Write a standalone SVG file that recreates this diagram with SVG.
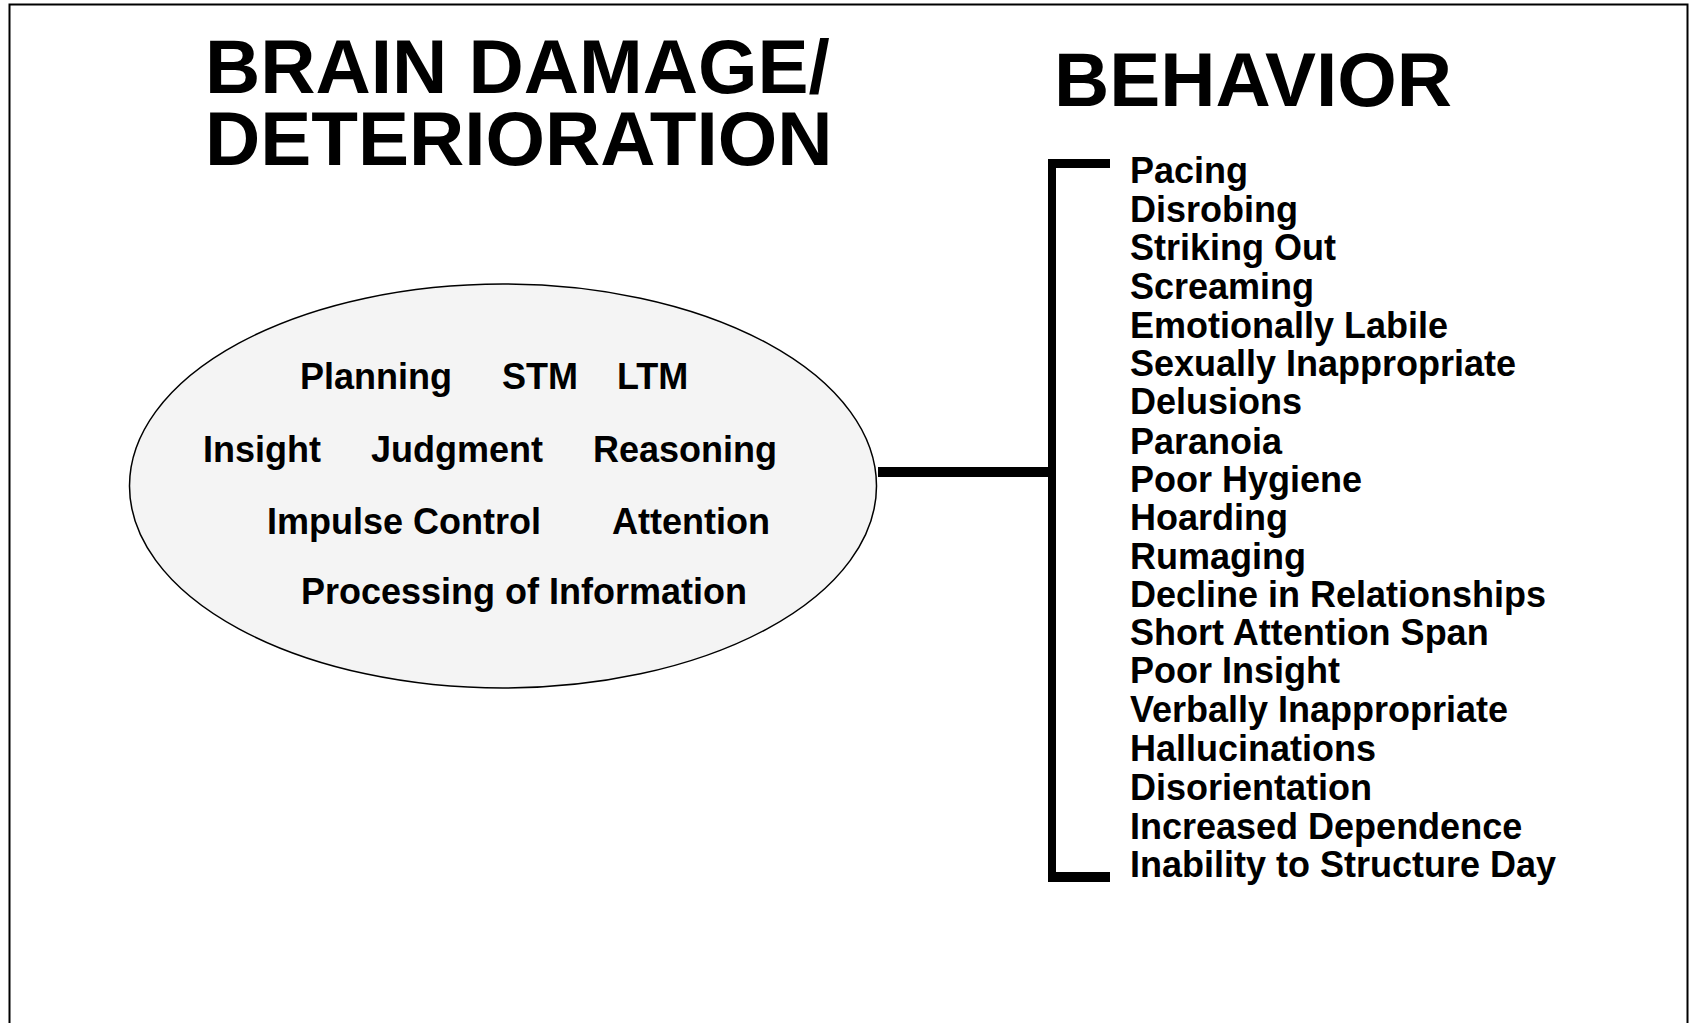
<svg xmlns="http://www.w3.org/2000/svg" width="1693" height="1023" viewBox="0 0 1693 1023">
<style>
  text { font-family: "Liberation Sans", Arial, sans-serif; font-weight: bold; fill: #000; }
  .title { font-size: 76.5px; }
  .item { font-size: 36px; }
  .conn { fill: #000; stroke: none; }
</style>
<rect x="0" y="0" width="1693" height="1023" fill="#fff"/>
<rect id="frame" x="9.5" y="4.5" width="1678" height="1040" fill="none" stroke="#000" stroke-width="2"/>

<g id="title-brain">
  <text class="title" x="205" y="93">BRAIN DAMAGE/</text>
  <text class="title" x="205" y="165">DETERIORATION</text>
</g>
<g id="title-behavior">
  <text class="title" x="1054" y="106">BEHAVIOR</text>
</g>

<g id="node-brain">
  <ellipse cx="503" cy="486" rx="373.5" ry="202" fill="#f4f4f4" stroke="#000" stroke-width="1.5"/>
  <text class="item" x="300" y="389">Planning</text>
  <text class="item" x="502" y="389">STM</text>
  <text class="item" x="617" y="389">LTM</text>
  <text class="item" x="203" y="462">Insight</text>
  <text class="item" x="371" y="462">Judgment</text>
  <text class="item" x="593" y="462">Reasoning</text>
  <text class="item" x="267" y="534">Impulse Control</text>
  <text class="item" x="612" y="534">Attention</text>
  <text class="item" x="301" y="604">Processing of Information</text>
</g>

<g id="connectors">
  <rect class="conn" x="878" y="467" width="178" height="10"/>
  <rect class="conn" x="1048" y="159" width="8" height="723"/>
  <rect class="conn" x="1048" y="159" width="62" height="9"/>
  <rect class="conn" x="1048" y="872" width="62" height="10"/>
</g>

<g id="node-behavior">
  <text class="item" x="1130" y="183">Pacing</text>
  <text class="item" x="1130" y="222">Disrobing</text>
  <text class="item" x="1130" y="260">Striking Out</text>
  <text class="item" x="1130" y="299">Screaming</text>
  <text class="item" x="1130" y="337.5">Emotionally Labile</text>
  <text class="item" x="1130" y="376">Sexually Inappropriate</text>
  <text class="item" x="1130" y="414">Delusions</text>
  <text class="item" x="1130" y="454">Paranoia</text>
  <text class="item" x="1130" y="492">Poor Hygiene</text>
  <text class="item" x="1130" y="530">Hoarding</text>
  <text class="item" x="1130" y="568.5">Rumaging</text>
  <text class="item" x="1130" y="607">Decline in Relationships</text>
  <text class="item" x="1130" y="645">Short Attention Span</text>
  <text class="item" x="1130" y="683">Poor Insight</text>
  <text class="item" x="1130" y="722">Verbally Inappropriate</text>
  <text class="item" x="1130" y="761">Hallucinations</text>
  <text class="item" x="1130" y="800">Disorientation</text>
  <text class="item" x="1130" y="838.5">Increased Dependence</text>
  <text class="item" x="1130" y="877">Inability to Structure Day</text>
</g>
</svg>
